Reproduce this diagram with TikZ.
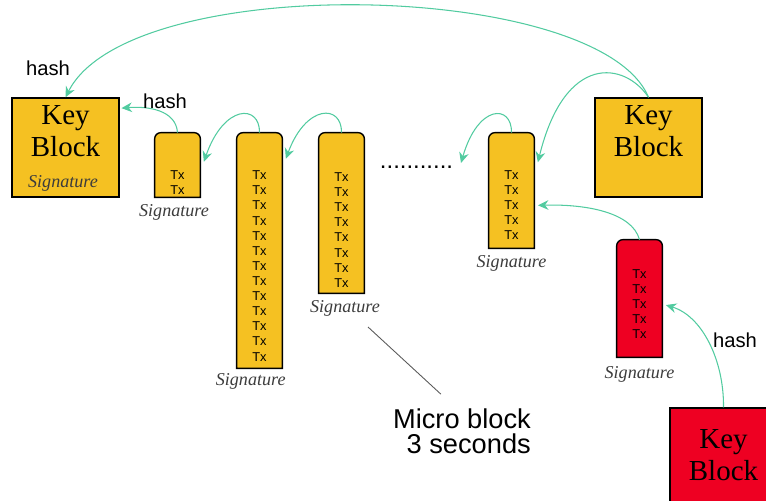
\documentclass[tikz,border=0pt]{standalone}
\usepackage{fontspec}
\setmainfont{Liberation Serif}
\setsansfont{Liberation Sans}
\usepackage{xcolor}
\usepackage{tikz}
\usetikzlibrary{arrows.meta,positioning}
\definecolor{KY}{HTML}{F5C122}
\definecolor{KR}{HTML}{EE0022}
\definecolor{HG}{HTML}{52CBA0}
\definecolor{SG}{HTML}{3C3C3C}
\newcommand{\sigfont}{\itshape}

\begin{document}
\begin{tikzpicture}[x=0.02cm, y=-0.02cm,
  keybox/.style={draw, line width=0.8pt, minimum width=2.14cm, minimum height=1.98cm, inner sep=0pt},
  keytext/.style={align=center, font=\fontsize{16.5}{18.5}\selectfont},
  mb/.style={minimum width=0.9cm, inner sep=0pt},
  mbody/.style={draw, line width=0.8pt},
  txs/.style={align=center, inner sep=0pt, font=\sffamily\fontsize{7.3}{8.6}\selectfont},
  sig/.style={text=SG, inner sep=0pt, font=\sigfont\fontsize{10.3}{11}\selectfont},
  hashlbl/.style={font=\sffamily\fontsize{11.5}{13}\selectfont},
  hasharrow/.style={draw=HG, line width=0.6pt, -{Stealth[length=6pt,width=5.5pt]}}]%
\useasboundingbox (0,0) rectangle (766,500);%
% key blocks
\node[keybox, fill=KY] (k1) at (65.5,147.5) {};%
\node[keytext] at (65.5,131) {Key\\Block};%
\node[sig] at (63,183) {Signature};%
\node[keybox, fill=KY] (k2) at (648.5,147.5) {};%
\node[keytext] at (648.5,131) {Key\\Block};%
\node[keybox, fill=KR] (k3) at (723.5,457.5) {};%
\node[keytext] at (723.5,455) {Key\\Block};%
% micro blocks, rounded on top only
\node[mb, minimum height=1.28cm] (b1) at (177.5,165) {};%
\path[mbody, fill=KY] (b1.south west) {[rounded corners=3.5pt] -- (b1.north west) -- (b1.north east)} -- (b1.south east) -- cycle;%
\node[txs] at (177.5,182.5) {Tx\\Tx};%
\node[sig, below=4pt of b1, xshift=-2pt] {Signature};%
\node[mb, minimum height=4.7cm] (b2) at (259.5,250.5) {};%
\path[mbody, fill=KY] (b2.south west) {[rounded corners=3.5pt] -- (b2.north west) -- (b2.north east)} -- (b2.south east) -- cycle;%
\node[txs] at (259.5,266) {Tx\\Tx\\Tx\\Tx\\Tx\\Tx\\Tx\\Tx\\Tx\\Tx\\Tx\\Tx\\Tx};%
\node[sig, below=3pt of b2, xshift=-5pt] {Signature};%
\node[mb, minimum height=3.2cm] (b3) at (341.5,213) {};%
\path[mbody, fill=KY] (b3.south west) {[rounded corners=3.5pt] -- (b3.north west) -- (b3.north east)} -- (b3.south east) -- cycle;%
\node[txs] at (341.5,230) {Tx\\Tx\\Tx\\Tx\\Tx\\Tx\\Tx\\Tx};%
\node[sig, below=4pt of b3, xshift=2pt] (s3) {Signature};%
\node[mb, minimum height=2.3cm] (b4) at (511.5,190.5) {};%
\path[mbody, fill=KY] (b4.south west) {[rounded corners=3.5pt] -- (b4.north west) -- (b4.north east)} -- (b4.south east) -- cycle;%
\node[txs] at (511.5,205) {Tx\\Tx\\Tx\\Tx\\Tx};%
\node[sig, below=4pt of b4] {Signature};%
\node[mb, minimum height=2.34cm] (r1) at (639.5,298.5) {};%
\path[mbody, fill=KR] (r1.south west) {[rounded corners=3.5pt] -- (r1.north west) -- (r1.north east)} -- (r1.south east) -- cycle;%
\node[txs] at (639.5,304) {Tx\\Tx\\Tx\\Tx\\Tx};%
\node[sig, below=5pt of r1] {Signature};%
\node[font=\sffamily\fontsize{13.6}{14}\selectfont, inner sep=0pt] (dots) at (416.5,167) {...........};%
\coordinate (gap) at (461,163);%
% hash links
\draw[hasharrow] (k2.north) .. controls (600,-20) and (130,-30) .. (k1.north);%
\draw[hasharrow] (k2.north) .. controls (625,62) and (565,52) .. ([xshift=2pt]b4.51);%
\draw[hasharrow] (b4.north) .. controls (512,104) and (478,104) .. (gap);%
\draw[hasharrow] (b3.north) .. controls (342,104) and (306,104) .. ([xshift=2pt]b2.76);%
\draw[hasharrow] (b2.north) .. controls (260,104) and (224,104) .. ([xshift=2pt]b1.8);%
\draw[hasharrow] (b1.north) .. controls (176,110) and (148,106) .. ([xshift=1pt]k1.36);%
\draw[hasharrow] (r1.north) .. controls (632,212) and (585,204) .. ([xshift=2pt]b4.-33);%
\draw[hasharrow] (k3.north) .. controls (724,360) and (702,316) .. ([xshift=2pt]r1.-16);%
\node[hashlbl] (h1) at (48,68) {hash};%
\node[hashlbl] (h2) at (165,101) {hash};%
\node[hashlbl] (h3) at (735,340) {hash};%
% caption with leader line
\node[font=\sffamily\fontsize{15.5}{14.5}\selectfont, align=right, anchor=east] (micro) at (537,431) {Micro block\\3 seconds};%
\coordinate (lead) at (368,327);%
\draw[black!65, line width=0.5pt] (lead) -- ([xshift=-12pt,yshift=4.5pt]micro.north);%
\end{tikzpicture}
\end{document}
